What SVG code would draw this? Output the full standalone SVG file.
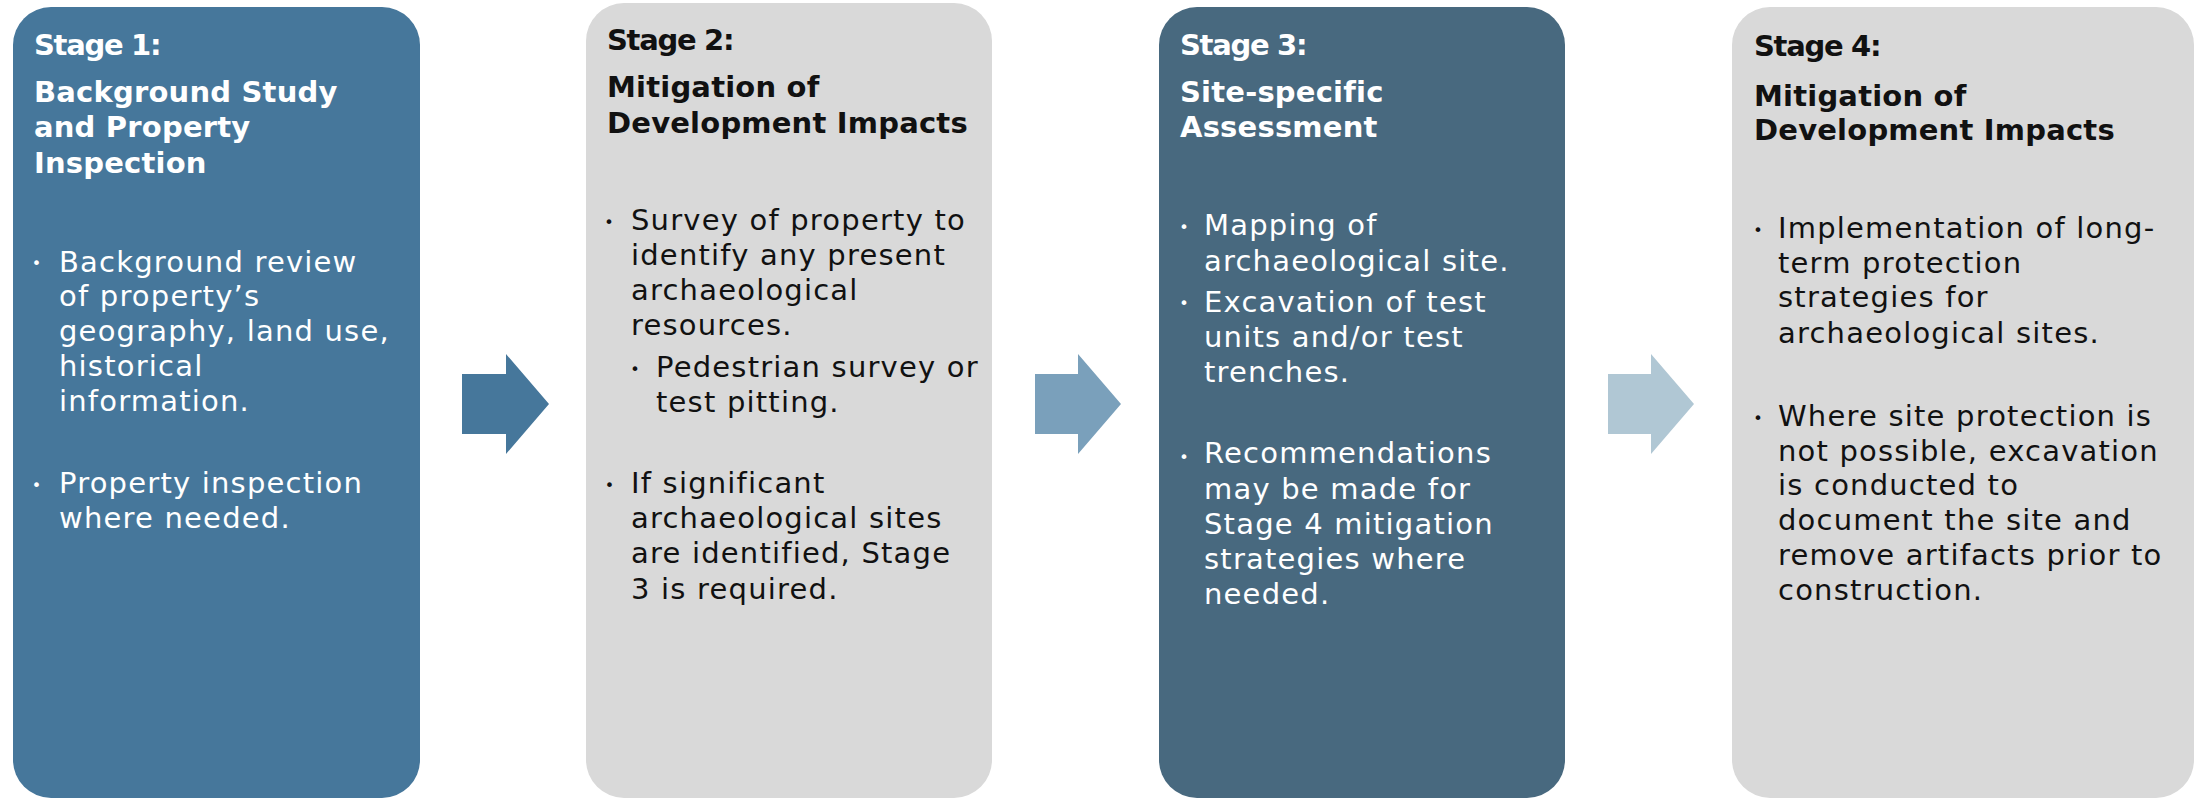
<svg xmlns="http://www.w3.org/2000/svg" width="2204" height="799" viewBox="0 0 2204 799">
<style>
.h{font-family:"DejaVu Sans",sans-serif;font-weight:bold;font-size:29px;letter-spacing:0.2px}
.s{font-family:"DejaVu Sans",sans-serif;font-weight:bold;font-size:29px;letter-spacing:-1.3px}
.b{font-family:"DejaVu Sans",sans-serif;font-size:29px;letter-spacing:1.2px}
.d{font-family:"DejaVu Sans",sans-serif;font-size:16px;text-anchor:middle}
.w{fill:#ffffff}
.k{fill:#111111}
</style>
<rect width="2204" height="799" fill="#ffffff"/>
<g id="stage1">
<rect x="13" y="7" width="407" height="791" rx="38" fill="#46779b"/>
<text class="s w" x="34" y="55">Stage 1:</text>
<text class="h w" x="34" y="102">Background Study</text>
<text class="h w" x="34" y="137">and Property</text>
<text class="h w" x="34" y="173">Inspection</text>
<text class="d w" x="36.5" y="269">•</text>
<text class="b w" x="59" y="272">Background review</text>
<text class="b w" x="59" y="306">of property’s</text>
<text class="b w" x="59" y="341">geography, land use,</text>
<text class="b w" x="59" y="376">historical</text>
<text class="b w" x="59" y="411">information.</text>
<text class="d w" x="36.5" y="491">•</text>
<text class="b w" x="59" y="493">Property inspection</text>
<text class="b w" x="59" y="528">where needed.</text>
</g>
<g id="stage2">
<rect x="586" y="3" width="406" height="795" rx="38" fill="#d9d9d9"/>
<text class="s k" x="607" y="50">Stage 2:</text>
<text class="h k" x="607" y="97">Mitigation of</text>
<text class="h k" x="607" y="133">Development Impacts</text>
<text class="d k" x="609" y="228">•</text>
<text class="b k" x="631" y="230">Survey of property to</text>
<text class="b k" x="631" y="265">identify any present</text>
<text class="b k" x="631" y="300">archaeological</text>
<text class="b k" x="631" y="335">resources.</text>
<text class="d k" x="635" y="375">•</text>
<text class="b k" x="656" y="377">Pedestrian survey or</text>
<text class="b k" x="656" y="412">test pitting.</text>
<text class="d k" x="609.5" y="491">•</text>
<text class="b k" x="631" y="493">If significant</text>
<text class="b k" x="631" y="528">archaeological sites</text>
<text class="b k" x="631" y="563">are identified, Stage</text>
<text class="b k" x="631" y="599">3 is required.</text>
</g>
<g id="stage3">
<rect x="1159" y="7" width="406" height="791" rx="38" fill="#48697f"/>
<text class="s w" x="1180" y="55">Stage 3:</text>
<text class="h w" x="1180" y="102">Site-specific</text>
<text class="h w" x="1180" y="137">Assessment</text>
<text class="d w" x="1184" y="233">•</text>
<text class="b w" x="1204" y="235">Mapping of</text>
<text class="b w" x="1204" y="271">archaeological site.</text>
<text class="d w" x="1184" y="309">•</text>
<text class="b w" x="1204" y="312">Excavation of test</text>
<text class="b w" x="1204" y="347">units and/or test</text>
<text class="b w" x="1204" y="382">trenches.</text>
<text class="d w" x="1184" y="463">•</text>
<text class="b w" x="1204" y="463">Recommendations</text>
<text class="b w" x="1204" y="499">may be made for</text>
<text class="b w" x="1204" y="534">Stage 4 mitigation</text>
<text class="b w" x="1204" y="569">strategies where</text>
<text class="b w" x="1204" y="604">needed.</text>
</g>
<g id="stage4">
<rect x="1732" y="7" width="462" height="791" rx="38" fill="#d9d9d9"/>
<text class="s k" x="1754" y="56">Stage 4:</text>
<text class="h k" x="1754" y="106">Mitigation of</text>
<text class="h k" x="1754" y="140">Development Impacts</text>
<text class="d k" x="1758" y="236">•</text>
<text class="b k" x="1778" y="238">Implementation of long-</text>
<text class="b k" x="1778" y="273">term protection</text>
<text class="b k" x="1778" y="307">strategies for</text>
<text class="b k" x="1778" y="343">archaeological sites.</text>
<text class="d k" x="1758" y="424">•</text>
<text class="b k" x="1778" y="426">Where site protection is</text>
<text class="b k" x="1778" y="461">not possible, excavation</text>
<text class="b k" x="1778" y="495">is conducted to</text>
<text class="b k" x="1778" y="530">document the site and</text>
<text class="b k" x="1778" y="565">remove artifacts prior to</text>
<text class="b k" x="1778" y="600">construction.</text>
</g>
<g id="connectors">
<polygon points="462,374 506,374 506,354 549,404 506,454 506,434 462,434" fill="#46779b"/>
<polygon points="1035,374 1078,374 1078,354 1121,404 1078,454 1078,434 1035,434" fill="#7aa0bb"/>
<polygon points="1608,374 1651,374 1651,354 1694,404 1651,454 1651,434 1608,434" fill="#b0c7d4"/>
</g>
</svg>
